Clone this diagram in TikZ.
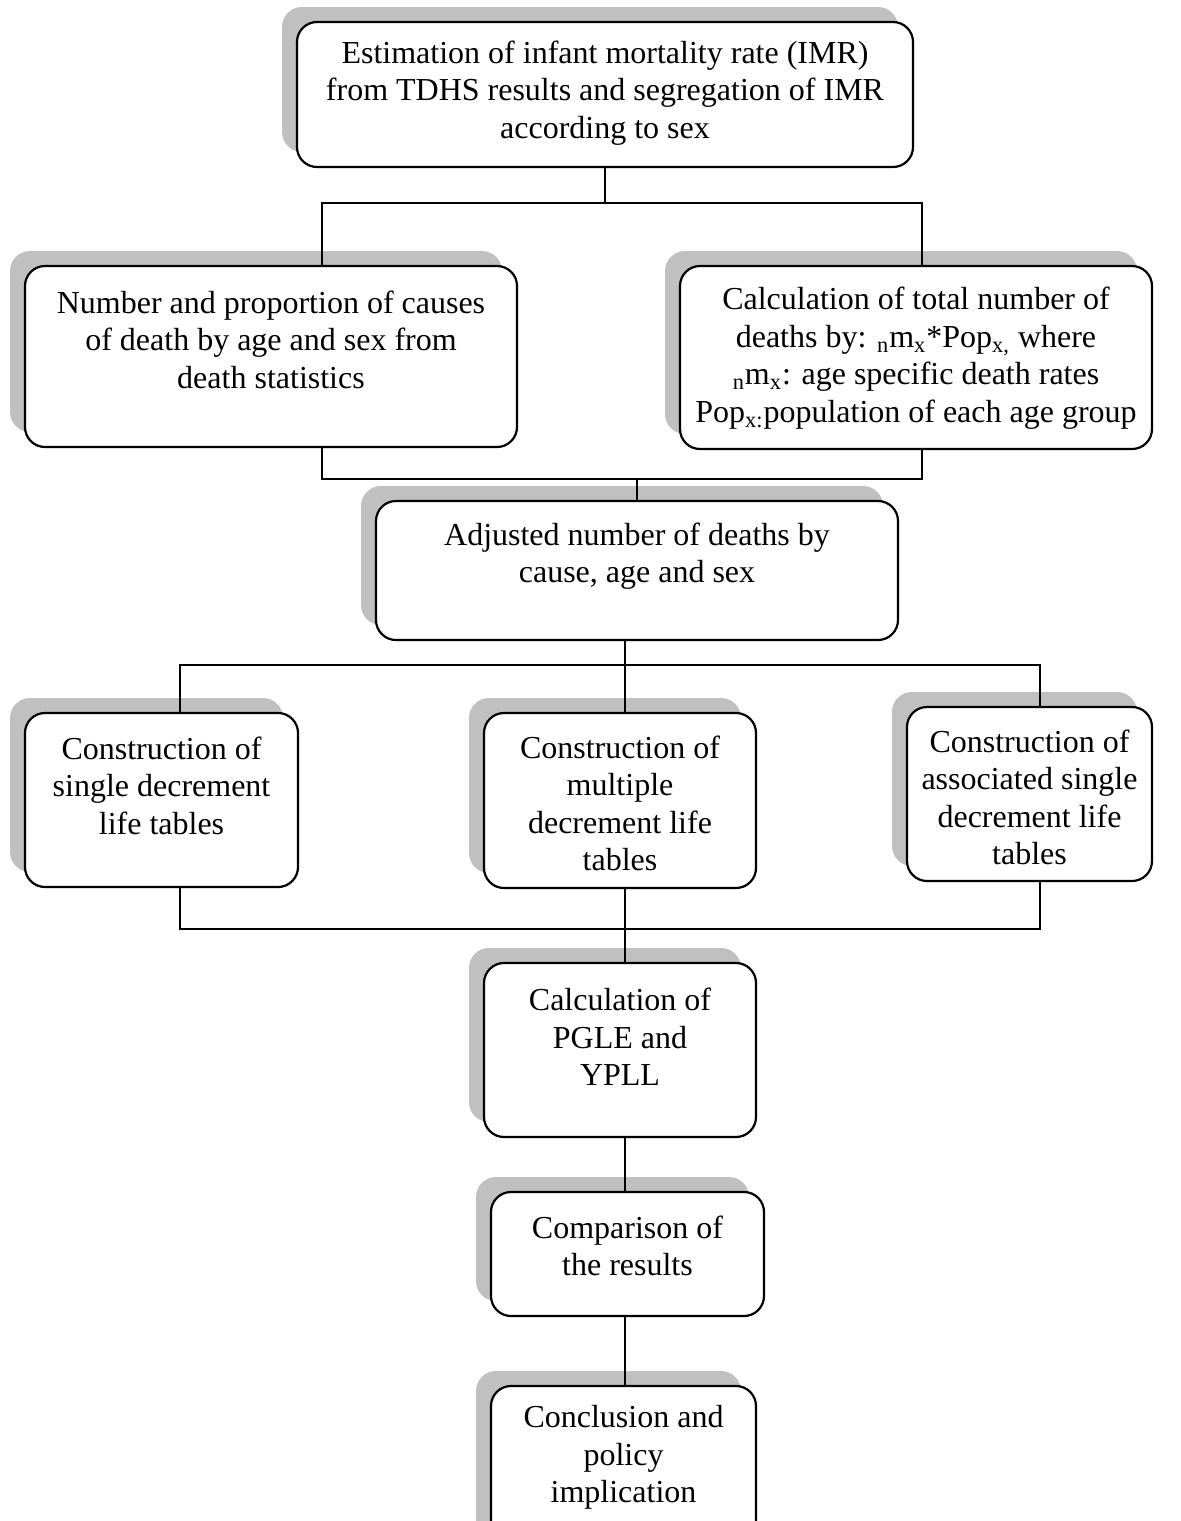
\documentclass[tikz,border=0pt]{standalone}
\usepackage{fontspec}
\setmainfont{Liberation Serif}
\usetikzlibrary{shadows}
\definecolor{shadowgray}{HTML}{C0C0C0}
\tikzset{
  box/.style={draw, line width=1.1pt, rounded corners=10pt, fill=white, inner sep=0pt,
    drop shadow={shadow xshift=-7.5pt, shadow yshift=7.5pt, fill=shadowgray, opacity=1, shadow scale=1}},
  conn/.style={line width=0.8pt},
  lbl/.style={align=center, inner sep=0pt, font=\fontsize{16}{18.75}\selectfont}
}
\begin{document}
\begin{tikzpicture}[x=0.5pt, y=-0.5pt]
\useasboundingbox (0,0) rectangle (1181,1521);
\clip (0,0) rectangle (1181,1521);
% boxes
\node[box, minimum width=308pt,   minimum height=72.5pt] (b1)  at (605,94.5)   {};
\node[box, minimum width=246pt,   minimum height=90.5pt] (b2)  at (271,356.5)  {};
\node[box, minimum width=236pt,   minimum height=91.5pt] (b3)  at (916,357.5)  {};
\node[box, minimum width=261pt,   minimum height=69.5pt] (b4)  at (637,570.5)  {};
\node[box, minimum width=136.5pt, minimum height=87pt]   (b5)  at (161.5,800)  {};
\node[box, minimum width=136pt,   minimum height=87.5pt] (b6)  at (620,800.5)  {};
\node[box, minimum width=122.5pt, minimum height=87pt]   (b7)  at (1029.5,794) {};
\node[box, minimum width=136pt,   minimum height=87pt]   (b8)  at (620,1050)   {};
\node[box, minimum width=136.5pt, minimum height=62pt]   (b9)  at (627.5,1254) {};
\node[box, minimum width=132.5pt, minimum height=87pt]   (b10) at (623.5,1473) {};
% texts
\node[lbl] (t1) at (605,93) {Estimation of infant mortality rate (IMR)\\from TDHS results and segregation of IMR\\according to sex};
\node[lbl] (t2) at (271,339.5) {Number and proportion of causes\\of death by age and sex from\\death statistics};
\node[lbl] (t3) at (916,358) {Calculation of total number of\\deaths by: \textsubscript{n}m\textsubscript{x}*Pop\textsubscript{x,} where\\\textsubscript{n}m\textsubscript{x}: age specific death rates\\Pop\textsubscript{x:}population of each age group};
\node[lbl] (t4) at (637,556) {Adjusted number of deaths by\\cause, age and sex};
\node[lbl] (t5) at (161.5,785.5) {Construction of\\single decrement\\life tables};
\node[lbl] (t6) at (620,803.5) {Construction of\\multiple\\decrement life\\tables};
\node[lbl] (t7) at (1029.5,797.5) {Construction of\\associated single\\decrement life\\tables};
\node[lbl] (t8) at (620,1037) {Calculation of\\PGLE and\\YPLL};
\node[lbl] (t9) at (627.5,1246) {Comparison of\\the results};
\node[lbl] (t10) at (623.5,1457.5) {Conclusion and\\policy\\implication};
% junction coordinates
\coordinate (S1) at (605,203);
\coordinate (L1) at (322,203);
\coordinate (R1) at (922,203);
\coordinate (L2) at (322,479);
\coordinate (R2) at (922,479);
\coordinate (M2) at (637,479);
\coordinate (L3) at (180,665);
\coordinate (R3) at (1040,665);
\coordinate (M3) at (625,665);
\coordinate (L4) at (180,929);
\coordinate (R4) at (1040,929);
\coordinate (M4) at (625,929);
% connectors
\draw[conn] (b1.south -| S1) -- (S1);
\draw[conn] (b2.north -| L1) -- (L1) -- (R1) -- (b3.north -| R1);
\draw[conn] (b2.south -| L2) -- (L2) -- (R2) -- (b3.south -| R2);
\draw[conn] (M2) -- (b4.north -| M2);
\draw[conn] (b4.south -| M3) -- (M3);
\draw[conn] (b5.north -| L3) -- (L3) -- (R3) -- (b7.north -| R3);
\draw[conn] (M3) -- (b6.north -| M3);
\draw[conn] (b5.south -| L4) -- (L4) -- (R4) -- (b7.south -| R4);
\draw[conn] (b6.south -| M4) -- (M4) -- (b8.north -| M4);
\draw[conn] (b8.south -| M4) -- (b9.north -| M4);
\draw[conn] (b9.south -| M4) -- (b10.north -| M4);
\end{tikzpicture}
\end{document}
